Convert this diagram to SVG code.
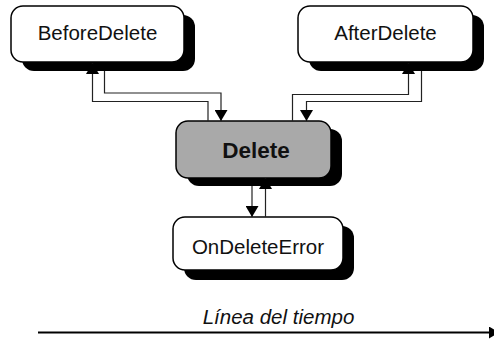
<svg xmlns="http://www.w3.org/2000/svg" width="494" height="342" viewBox="0 0 494 342">
<style>
.shadow{fill:#000;stroke:none}
.box{fill:#fff;stroke:#000;stroke-width:1.5}
.gray{fill:#a9a9a9;stroke:#000;stroke-width:1.5}
.lbl{font-family:"Liberation Sans",Arial,sans-serif;font-size:20.5px;fill:#111;text-anchor:middle}
.bold{font-weight:bold;font-size:22.5px}
.conn{fill:none;stroke:#222;stroke-width:1.2;marker-end:url(#ah)}
.time{fill:none;stroke:#000;stroke-width:2;marker-end:url(#ah2)}
</style>
<defs>
<marker id="ah" markerUnits="userSpaceOnUse" markerWidth="12" markerHeight="13" refX="11" refY="6.5" orient="auto">
<path d="M0,0 L11,6.5 L0,13 z" fill="#000"/>
</marker>
<marker id="ah2" markerUnits="userSpaceOnUse" markerWidth="12" markerHeight="12" refX="10" refY="6" orient="auto">
<path d="M0,0 L10,6 L0,12 z" fill="#000"/>
</marker>
</defs>
<g id="BeforeDelete">
<rect class="shadow" x="22" y="15" width="173" height="56" rx="12"/>
<rect class="box" x="11" y="6" width="173" height="56" rx="12"/>
<text class="lbl" x="97.5" y="40">BeforeDelete</text>
</g>
<g id="AfterDelete">
<rect class="shadow" x="309" y="15" width="175" height="56" rx="12"/>
<rect class="box" x="298" y="6" width="175" height="56" rx="12"/>
<text class="lbl" x="385.5" y="40">AfterDelete</text>
</g>
<g id="Delete">
<rect class="shadow" x="187" y="129" width="155" height="57" rx="12"/>
<rect class="gray" x="176" y="121" width="155" height="57" rx="12"/>
<text class="lbl bold" x="256" y="158">Delete</text>
</g>
<g id="OnDeleteError">
<rect class="shadow" x="184" y="226" width="170" height="54" rx="12"/>
<rect class="box" x="173" y="217" width="170" height="53" rx="12"/>
<text class="lbl" x="258" y="254">OnDeleteError</text>
</g>
<g id="connectors">
<path class="conn" d="M208,121 V101.5 H92.5 V63"/>
<path class="conn" d="M104.5,71 V93 H221 V121"/>
<path class="conn" d="M292.5,121 V94.5 H408.5 V63"/>
<path class="conn" d="M421.5,71 V101.5 H306.5 V121"/>
<path class="conn" d="M252,186 V217"/>
<path class="conn" d="M265.5,217 V178"/>
</g>
<g id="timeline">
<path class="time" d="M38,332.5 H499"/>
<text class="lbl" x="278.5" y="324" font-style="italic">Línea del tiempo</text>
</g>
</svg>
